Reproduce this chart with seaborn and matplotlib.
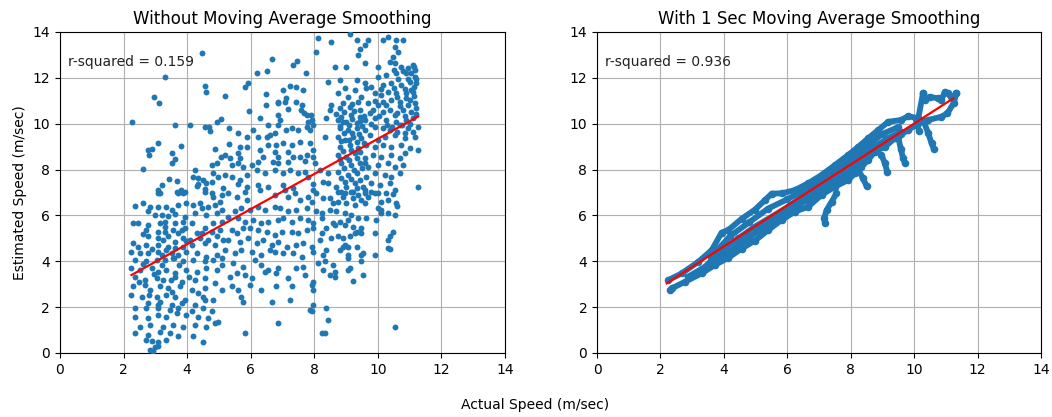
import matplotlib
matplotlib.use("Agg")
import matplotlib.pyplot as plt
import seaborn as sns
import pandas as pd

# ---------------- Left panel: raw (actual, estimated) points, read by region ----------------
left_region_a = [  # x 2-5, y 7-14
    (4.46,13.07),(3.30,12.05),(4.56,11.64),(4.61,11.40),(2.97,11.15),(3.11,10.89),(2.27,10.07),(3.62,9.93),
    (4.08,9.93),(4.56,9.87),(4.69,9.87),(4.72,9.70),(4.93,10.07),(5.08,10.19),(3.07,9.17),(2.90,8.91),
    (2.76,8.85),(2.80,8.63),(3.80,9.03),(4.87,8.91),(3.51,8.71),(3.62,8.47),(3.53,8.27),(2.60,8.04),
    (5.08,8.56),(4.93,8.30),(4.77,8.18),(4.25,8.00),(4.19,7.69),(4.35,7.62),(4.33,7.37),(4.51,7.54),
    (4.61,7.43),(4.77,7.47),(4.82,7.84),(4.98,7.69),(3.43,7.57),(3.67,7.49),(3.20,7.31),(3.09,7.11),
    (3.14,6.96),(3.80,7.11),(3.93,7.03),(3.72,6.96),(4.30,7.26),(4.56,7.13),(4.77,6.99),(5.14,7.18),
]
left_region_b = [  # x 2-5, y 0-7
    (3.09,6.96),(3.67,7.04),(3.88,6.96),(4.56,7.04),(4.82,6.82),(5.09,6.89),
    (2.36,6.41),(2.62,6.53),(2.83,6.38),(2.78,6.21),(3.09,6.38),(3.35,6.35),(3.51,6.24),(3.72,6.46),
    (3.98,6.53),(4.19,6.46),(4.40,6.53),(4.46,6.31),(4.67,6.38),(4.88,6.46),(5.03,6.60),(5.09,6.24),
    (2.99,6.02),(3.20,6.02),(3.41,5.98),(3.62,6.06),(3.93,5.95),(4.25,6.09),(4.61,6.02),(4.93,6.09),
    (2.30,5.66),(2.46,5.66),(2.78,5.58),(3.14,5.66),(3.30,5.73),(3.62,5.66),(3.88,5.73),(4.14,5.66),
    (4.30,5.22),(4.56,5.44),(4.82,5.66),(5.09,5.73),
    (2.72,5.37),(3.09,5.29),(3.30,5.29),(3.56,5.37),(3.72,5.22),(3.93,5.44),(4.46,5.22),(4.77,5.29),(5.03,5.37),
    (2.78,5.08),(3.09,5.00),(3.25,4.93),(3.41,5.08),(3.62,4.86),(3.88,5.00),(4.09,4.93),(4.40,5.00),
    (4.67,4.93),(4.93,5.08),(5.14,4.93),
    (2.30,4.79),(2.72,4.71),(3.09,4.71),(3.41,4.64),(3.62,4.57),(3.88,4.64),(4.14,4.71),(4.56,4.79),(4.88,4.71),
    (2.25,4.42),(2.51,4.35),(2.78,4.35),(3.09,4.42),(3.20,4.28),(3.51,4.35),(3.72,4.28),(3.98,4.42),
    (4.30,4.35),(4.61,4.20),(4.93,4.28),(5.09,4.13),
    (2.36,4.06),(2.72,3.99),(3.04,4.06),(3.30,4.06),(3.56,4.13),(3.88,4.03),(4.19,4.06),(4.56,3.99),
    (4.82,4.06),(5.09,3.84),
    (2.51,3.62),(2.88,3.70),(3.09,3.55),(3.35,3.62),(3.62,3.48),(3.98,3.62),(4.30,3.55),(4.61,3.70),(4.93,3.62),
    (2.36,3.33),(2.67,3.19),(3.04,3.26),(3.25,3.19),(3.62,3.30),(3.83,3.11),(4.25,3.19),(4.56,3.26),(4.88,3.04),
    (2.30,2.90),(2.67,2.97),(2.83,2.75),(3.14,2.90),(3.41,2.82),(3.51,2.68),(3.77,2.90),(4.14,2.75),
    (4.35,2.61),(4.56,2.82),(5.09,2.75),
    (2.25,2.53),(2.57,2.46),(3.04,2.46),(3.35,2.53),(3.62,2.46),(3.93,2.32),(4.51,2.46),(4.82,2.32),
    (2.78,2.17),(3.14,2.24),(3.51,2.10),(3.83,2.17),(4.25,2.10),(4.56,2.32),
    (2.36,1.95),(2.72,1.95),(3.09,1.95),(3.46,1.88),(3.72,1.95),(4.14,1.81),(4.51,1.95),(4.77,1.81),
    (2.36,1.59),(2.78,1.52),(3.09,1.66),(3.35,1.59),(3.67,1.73),(3.98,1.66),(4.35,1.59),(4.67,1.52),(4.98,1.37),
    (2.51,1.15),(2.83,1.23),(3.25,1.15),(3.56,1.23),(3.88,1.15),(4.25,1.23),(4.61,1.15),(4.88,1.30),
    (2.36,0.86),(2.78,0.78),(3.14,0.93),(3.46,0.86),(3.72,0.72),(4.19,0.72),(4.51,0.49),
    (2.72,0.57),(2.88,0.54),(3.09,0.49),(3.35,0.57),(2.99,0.28),(3.09,0.31),(2.83,0.13),(2.93,0.09),
    (2.45,4.60),(2.60,3.90),(2.90,4.55),(3.20,3.85),(3.35,4.50),(3.50,3.20),(3.75,3.85),(3.95,4.90),
    (2.50,3.10),(2.80,2.55),(3.10,2.10),(3.30,5.50),(2.60,5.20),(3.85,5.35),(4.05,3.30),(2.95,3.45),
    (3.60,4.15),(2.25,3.70),
]
left_region_c = [  # x 5-8.3, y 7-14
    (8.12,13.72),(8.04,13.14),(6.66,12.80),(7.47,12.74),(7.34,12.55),(6.21,12.22),(6.52,12.28),(7.73,12.22),
    (5.92,11.76),(5.82,11.58),(6.48,11.28),(6.47,10.83),(7.02,11.46),(7.23,11.64),(7.44,11.58),(7.65,11.46),
    (7.11,11.10),(7.08,10.96),(6.85,10.96),(6.87,10.88),(7.44,10.96),(7.60,10.81),(5.19,11.20),(5.94,10.56),
    (7.16,10.62),(7.58,10.59),(7.68,10.48),(7.76,10.37),(7.89,10.37),(7.94,10.16),(7.81,10.08),(7.76,9.87),
    (7.86,9.72),(7.97,9.94),(6.87,10.37),(6.92,10.16),(6.29,10.23),(6.55,9.94),(6.87,9.94),(7.11,9.72),
    (7.29,9.79),(7.50,9.72),(5.32,9.79),(5.61,9.60),(6.08,9.72),(6.24,9.40),(5.87,9.40),(6.50,9.40),
    (6.60,9.50),(6.76,9.58),(5.32,9.11),(5.66,9.00),(5.87,8.96),(6.55,9.07),(6.81,9.07),(7.02,9.14),
    (7.29,9.07),(7.55,9.21),(7.86,9.14),(7.97,8.85),(5.19,8.63),(5.35,8.49),(5.61,8.70),(5.66,8.49),
    (5.61,8.27),(6.29,8.85),(6.40,8.56),(6.24,8.34),(6.76,8.78),(6.87,8.56),(6.71,8.34),(6.87,8.27),
    (7.18,8.78),(7.34,8.56),(7.18,8.34),(7.55,8.56),(7.76,8.63),(7.71,8.38),(7.97,8.56),(8.02,8.27),
    (5.40,8.19),(5.77,8.12),(6.03,8.19),(5.19,7.76),(5.40,7.69),(5.66,7.54),(5.87,7.76),(6.19,7.98),
    (6.45,7.83),(6.76,7.98),(7.02,7.83),(7.23,7.98),(7.50,7.83),(7.71,7.91),(7.81,7.69),(8.18,7.98),
    (5.61,7.39),(5.87,7.25),(6.24,7.32),(6.29,7.11),(6.55,7.25),(7.02,7.32),(7.08,7.11),(7.34,7.18),
    (7.97,7.39),(7.97,7.11),(8.28,7.47),
]
left_region_d = [  # x 5-8.3, y 0-7
    (5.29,6.96),(5.56,6.82),(5.82,7.04),(5.87,6.67),(6.76,6.89),(7.18,6.82),(7.39,6.96),(7.55,6.67),
    (7.81,6.82),(7.92,6.60),(8.07,6.96),(8.28,6.75),
    (5.50,6.17),(5.71,6.31),(5.98,6.24),(6.24,6.38),(6.45,6.24),(6.76,6.38),(6.92,6.31),(7.18,6.17),
    (7.44,6.24),(7.76,6.31),(8.07,6.17),(8.23,6.09),
    (5.29,5.95),(5.61,5.88),(5.82,5.73),(6.08,5.80),(6.34,5.66),(6.55,5.73),(6.87,5.80),(7.02,5.88),
    (7.29,5.73),(7.55,5.88),(7.81,5.80),(7.97,5.66),(8.23,5.88),
    (5.40,5.37),(5.56,5.22),(5.77,5.44),(5.98,5.44),(6.24,5.37),(6.50,5.29),(6.76,5.15),(6.97,5.29),
    (7.29,5.29),(7.50,5.22),(7.76,5.37),(7.97,5.44),(8.23,5.22),
    (5.29,4.93),(5.66,4.86),(5.92,5.00),(6.19,4.79),(6.40,4.93),(6.66,4.71),(6.87,4.86),(7.13,4.64),
    (7.44,4.71),(7.65,4.79),(7.92,4.64),(8.18,4.93),
    (5.19,4.49),(5.50,4.35),(5.71,4.49),(6.03,4.42),(6.34,4.28),(6.60,4.49),(6.76,4.42),(7.02,4.35),
    (7.34,4.35),(7.60,4.20),(7.97,4.42),(8.28,4.28),
    (5.45,3.91),(5.77,3.77),(6.13,4.06),(6.34,3.84),(6.55,3.62),(6.87,3.70),(7.44,3.70),(7.65,3.77),
    (8.12,3.91),(8.28,3.62),
    (5.35,3.33),(5.56,3.48),(5.82,3.40),(6.03,3.26),(6.45,3.55),(6.81,3.48),(7.18,3.26),(7.71,3.40),(7.97,3.11),
    (5.40,2.90),(5.61,2.75),(5.98,2.97),(6.34,2.75),(6.81,2.90),(7.29,2.90),(7.92,2.97),(7.97,2.75),
    (5.71,2.46),(5.77,2.24),(6.66,2.24),(7.23,2.32),(7.97,2.10),(7.86,1.88),(7.92,1.81),
    (6.87,1.30),(5.82,0.86),(8.23,0.86),
]
left_region_e = [  # x 8.3-11.3, y 7-14
    (9.12,13.91),(8.54,13.57),(9.33,13.64),(9.69,13.64),(9.59,13.43),(9.43,13.24),(9.38,12.99),(10.16,13.64),
    (10.32,13.79),(10.58,13.64),(10.79,13.64),(10.53,13.35),(10.64,13.14),(10.48,12.92),(10.37,12.70),
    (10.53,12.63),(10.74,12.48),(11.11,12.55),(11.16,12.34),(8.64,12.45),(9.01,12.45),(9.59,12.63),
    (10.01,12.48),(10.95,12.41),
    (8.43,11.83),(8.80,11.90),(9.33,11.90),(9.59,11.78),(10.01,12.05),(10.27,12.12),(10.58,12.19),
    (10.90,12.22),(11.16,12.05),(11.21,11.76),(9.27,11.46),(9.64,11.54),(8.96,11.54),(8.75,11.32),
    (10.16,11.68),(10.43,11.76),(10.74,11.68),(11.00,11.83),(11.11,11.39),(10.90,11.32),(10.58,11.32),
    (10.32,11.39),(10.11,11.25),(9.90,11.32),(9.48,11.17),(9.06,11.17),
    (8.54,10.81),(8.49,10.59),(8.80,10.67),(9.12,10.74),(9.38,10.96),(9.69,10.88),(10.01,10.81),
    (10.16,10.96),(10.43,11.03),(10.69,10.96),(11.00,11.03),(11.16,10.88),(8.85,10.30),(9.17,10.37),
    (9.43,10.30),(9.74,10.45),(10.16,10.52),(10.37,10.59),(10.53,10.37),(10.79,10.59),(11.05,10.52),
    (11.21,10.67),(8.75,10.16),(9.01,10.08),(9.33,10.01),(9.59,10.16),(9.90,10.23),(10.27,10.16),
    (10.58,10.08),(10.90,10.16),(11.11,10.23),(8.38,10.23),
    (8.80,9.79),(9.06,9.72),(9.33,9.79),(9.59,9.72),(9.90,9.87),(10.16,9.79),(10.37,9.72),(10.69,9.94),
    (10.95,9.79),(8.33,9.43),(8.75,9.43),(8.96,9.29),(9.22,9.43),(9.48,9.36),(9.74,9.50),(10.01,9.29),
    (10.22,9.43),(10.53,9.50),(10.85,9.36),(11.16,9.43),(11.26,9.87),(8.80,9.00),(9.12,9.07),(9.38,8.92),
    (9.64,9.07),(9.90,9.00),(10.16,9.07),(10.43,9.00),(10.74,9.07),(11.00,8.92),(11.26,8.85),
    (8.75,8.63),(9.01,8.56),(9.27,8.70),(9.59,8.49),(9.85,8.63),(10.11,8.56),(10.43,8.63),(10.69,8.49),
    (10.85,8.70),(8.85,8.27),(9.17,8.20),(9.43,8.27),(9.69,8.12),(10.01,8.20),(10.32,8.27),(10.53,8.12),
    (10.79,8.20),(8.43,7.83),(8.75,7.91),(9.06,7.76),(9.33,7.83),(9.64,7.69),(9.90,7.83),(10.22,7.76),
    (10.43,7.69),(10.69,7.83),(8.43,7.40),(8.70,7.25),(8.96,7.47),(9.27,7.40),(9.54,7.25),(9.80,7.40),
    (10.06,7.32),(10.37,7.40),(11.26,7.25),(8.85,7.03),(9.22,7.03),(9.59,7.11),(9.90,6.96),(10.53,7.11),
    (8.90,10.90),(9.20,10.85),(9.45,10.60),(8.95,10.50),(9.25,10.55),(8.70,10.40),(9.55,10.35),(8.90,10.05),
    (9.20,10.20),(9.45,10.10),(8.80,9.90),(9.10,9.95),(9.50,9.90),(8.95,9.60),(9.20,9.60),(9.40,9.55),
    (8.85,9.25),(9.10,9.30),(9.35,9.20),(9.55,9.15),(8.90,8.80),(9.15,8.85),(9.45,8.75),(8.80,8.45),
    (9.10,8.40),(9.35,8.50),(9.60,8.30),(8.95,8.05),(9.25,8.00),(9.50,8.05),(8.85,7.65),(9.15,7.60),
    (9.45,7.55),(9.00,7.25),(9.35,7.20),
    (10.50,12.35),(10.80,12.30),(11.05,12.20),(10.65,11.95),(10.95,11.95),(11.15,11.60),(10.50,11.55),
    (10.85,11.50),(11.05,11.45),(10.60,11.15),(10.90,11.10),(11.15,11.20),(10.70,10.75),(10.95,10.80),
    (11.20,10.40),(10.85,10.35),(10.60,10.45),(11.00,10.00),(10.75,9.95),(10.45,9.85),(11.10,9.65),
    (10.85,9.60),(10.60,9.65),(11.15,12.45),(11.20,11.95),
    (9.80,11.60),(10.10,11.50),(9.90,11.00),(10.25,10.80),(9.85,10.60),(10.05,10.35),(9.80,10.00),(10.30,9.95),
]
left_region_f = [  # x 8.3-11.3, y 0-7
    (8.75,7.04),(8.96,6.96),(9.17,7.04),(9.38,6.89),(9.59,6.96),(9.80,7.04),(8.91,6.82),(9.22,6.75),
    (9.48,6.67),(9.69,6.82),(8.49,6.75),(8.75,6.60),(8.59,6.53),(9.01,6.53),(9.27,6.46),(9.59,6.53),
    (10.01,6.96),(10.27,6.99),(10.48,6.94),(10.11,6.60),(10.32,6.67),(10.58,6.53),(10.61,6.41),
    (10.01,6.31),(10.11,6.24),
    (8.49,6.24),(8.70,6.17),(8.96,6.09),(9.17,6.02),(9.38,5.88),(9.06,5.80),(8.80,5.73),(8.59,5.66),
    (9.64,5.88),(9.95,5.80),(10.11,6.09),(10.32,6.09),(10.53,6.02),
    (8.38,5.44),(8.64,5.58),(8.96,5.58),(9.22,5.51),(9.48,5.44),(9.33,5.29),(9.27,5.22),(9.48,5.22),
    (9.90,5.25),(10.48,5.29),(10.37,5.08),(10.32,4.93),(8.54,5.00),(8.75,5.08),(8.91,5.00),(9.12,5.08),
    (8.96,4.71),(9.06,4.61),(8.91,4.64),(10.32,4.57),(10.37,4.54),
    (8.38,4.49),(8.80,4.49),(9.06,4.28),(9.06,4.13),(9.48,4.28),(9.54,4.38),(9.90,4.28),(9.33,4.64),
    (8.33,3.99),(8.59,3.84),(8.64,3.55),(8.49,3.40),(8.64,3.30),(9.06,3.62),(9.12,3.70),(9.48,3.99),
    (9.54,3.40),(9.22,3.16),
    (8.38,1.95),(8.43,1.44),(8.33,0.86),(10.53,1.12),
]

left_fit_x = [2.25, 11.27]
left_fit_y = [3.40, 10.31]
left_r2 = "r-squared = 0.159"

# ---------------- Right panel: 1 s moving-average trace, read as strands ----------------
right_upper_x = [2.25,2.67,3.20,3.62,3.93,4.14,4.56,4.98,5.30,5.51,5.82,6.24,6.66,7.08,7.50,7.92,8.24,8.55,8.87,9.18,9.60,9.81,10.13,10.28]
right_upper_y = [3.18,3.47,3.98,4.49,5.25,5.36,5.85,6.25,6.67,6.95,6.96,7.10,7.40,7.76,8.19,8.63,8.99,9.36,9.72,10.08,10.16,10.33,10.23,11.32]
right_lower_x = [2.30,2.36,2.78,3.30,3.72,4.14,4.56,4.98,5.40,5.82,6.24,6.66,7.08,7.50,7.92,8.13,8.34,8.55,8.76,9.08,9.39,9.81,10.13,10.44,10.86,11.05,11.25,11.33]
right_lower_y = [2.75,2.82,3.11,3.47,3.84,4.15,4.55,4.90,5.36,5.80,6.16,6.38,6.89,7.25,7.54,7.83,8.12,8.41,8.78,8.99,9.36,9.72,10.01,10.16,10.30,10.45,10.90,11.32]
right_mid_x = [2.88,3.41,3.93,4.46,4.98,5.51,6.03,6.56,7.08,7.61,8.13,8.66,9.18,9.60]
right_mid_y = [3.33,3.76,4.49,5.00,5.51,5.94,6.38,6.89,7.32,7.76,8.34,8.92,9.36,9.65]
right_fill1_x = [3.60,4.20,4.80,5.40,6.00,6.60,7.20,7.80,8.40,9.00,9.50]
right_fill1_y = [4.20,5.10,5.70,6.30,6.70,7.15,7.65,8.20,8.90,9.55,9.85]
right_fill2_x = [3.60,4.20,4.80,5.40,6.00,6.60,7.20,7.80,8.40,9.00,9.60]
right_fill2_y = [3.85,4.45,5.05,5.60,6.15,6.65,7.20,7.70,8.40,9.05,9.55]
right_loop_x = [10.28,10.34,10.49,10.76,10.86,10.97,11.07,11.18,11.33]
right_loop_y = [11.32,11.03,11.17,11.10,11.03,11.39,11.32,11.10,11.32]
right_hook_x = [7.55,7.40,7.24,7.16,7.19]
right_hook_y = [6.96,6.60,6.23,5.87,5.65]
right_branch1_x = [8.24,8.39,8.50]
right_branch1_y = [7.98,7.61,7.28]
right_branch2_x = [8.97,9.08,9.15]
right_branch2_y = [8.63,8.27,7.90]
right_branch3_x = [9.50,9.58,9.65,9.70]
right_branch3_y = [9.40,8.90,8.50,8.30]
right_branch4_x = [10.30,10.44,10.55,10.62]
right_branch4_y = [10.10,9.60,9.15,8.90]
right_branch5_x = [10.05,10.10,10.15]
right_branch5_y = [10.20,9.95,9.70]

right_fit_x = [2.20, 11.23]
right_fit_y = [3.04, 11.10]
right_r2 = "r-squared = 0.936"

titles = ["Without Moving Average Smoothing", "With 1 Sec Moving Average Smoothing"]
xlabel = "Actual Speed (m/sec)"
ylabel = "Estimated Speed (m/sec)"
ticks = [0, 2, 4, 6, 8, 10, 12, 14]

BLUE = "#1f77b4"

left_pts = left_region_a + left_region_b + left_region_c + left_region_d + left_region_e + left_region_f
left_df = pd.DataFrame(left_pts, columns=["actual", "estimated"])

fig = plt.figure(figsize=(10.52, 4.17), dpi=100)
ax1 = fig.add_axes([0.057, 0.1535, 0.423, 0.770])
ax2 = fig.add_axes([0.5675, 0.1535, 0.422, 0.770])

# left
sns.scatterplot(data=left_df, x="actual", y="estimated", ax=ax1, color=BLUE, s=18,
                linewidth=0, zorder=3)
sns.lineplot(x=left_fit_x, y=left_fit_y, ax=ax1, color="red", linewidth=1.6, zorder=4)

# right
strands = [(right_upper_x, right_upper_y), (right_lower_x, right_lower_y), (right_mid_x, right_mid_y),
           (right_fill1_x, right_fill1_y), (right_fill2_x, right_fill2_y),
           (right_loop_x, right_loop_y), (right_hook_x, right_hook_y), (right_branch1_x, right_branch1_y),
           (right_branch2_x, right_branch2_y), (right_branch3_x, right_branch3_y),
           (right_branch4_x, right_branch4_y), (right_branch5_x, right_branch5_y)]
for sx, sy in strands:
    sns.lineplot(x=sx, y=sy, ax=ax2, sort=False, estimator=None, color=BLUE, linewidth=4.2,
                 solid_capstyle="round", solid_joinstyle="round", zorder=3)
    sns.scatterplot(x=sx, y=sy, ax=ax2, color=BLUE, s=30, linewidth=0, zorder=3)
sns.lineplot(x=right_fit_x, y=right_fit_y, ax=ax2, color="red", linewidth=1.6, zorder=4)

for ax, title, r2 in [(ax1, titles[0], left_r2), (ax2, titles[1], right_r2)]:
    ax.set_xlim(0, 14)
    ax.set_ylim(0, 14)
    ax.set_xticks(ticks)
    ax.set_yticks(ticks)
    ax.grid(True, color="#b0b0b0", linewidth=0.8, zorder=0)
    ax.set_axisbelow(True)
    ax.set_title(title, fontsize=12)
    ax.set_xlabel("")
    ax.set_ylabel("")
    ax.tick_params(labelsize=10)
    ax.text(0.018, 0.906, r2, transform=ax.transAxes, fontsize=10, va="center", ha="left",
            color="#222222")

ax1.set_ylabel(ylabel, fontsize=10)
fig.text(0.509, 0.028, xlabel, ha="center", va="center", fontsize=10)

fig.savefig("out.png", dpi=100)
